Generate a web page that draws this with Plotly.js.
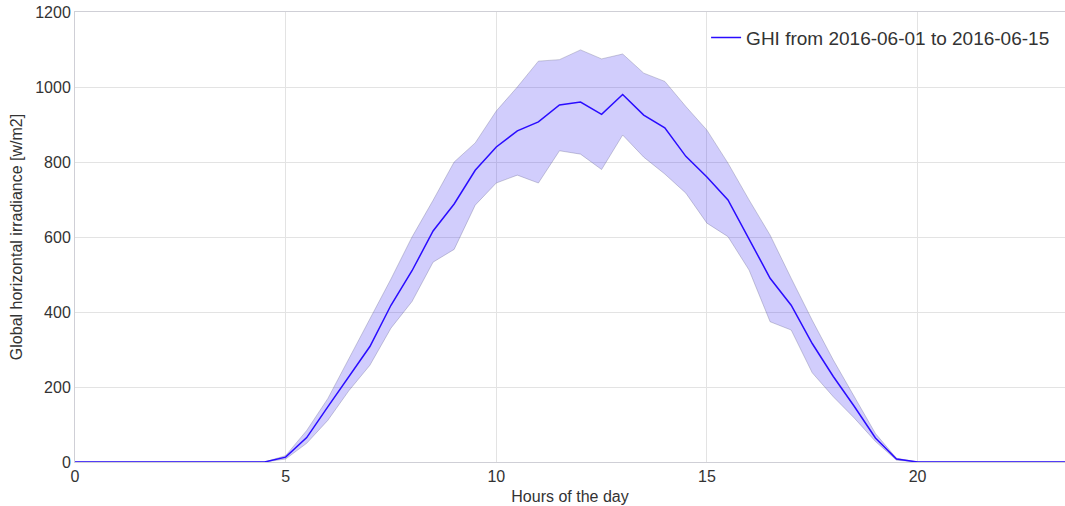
<!DOCTYPE html>
<html>
<head>
<meta charset="utf-8">
<script src="https://cdn.plot.ly/plotly-3.0.1.min.js"></script>
<style>
  html, body { margin: 0; padding: 0; background: #ffffff; }
  #chart { width: 1065px; height: 506px; }
</style>
</head>
<body>
<div id="chart"></div>
<script>
// Hours of the day (half-hour steps)
const hours = [0,0.5,1,1.5,2,2.5,3,3.5,4,4.5,5,5.5,6,6.5,7,7.5,8,8.5,9,9.5,10,10.5,11,11.5,12,12.5,13,13.5,14,14.5,15,15.5,16,16.5,17,17.5,18,18.5,19,19.5,20,20.5,21,21.5,22,22.5,23,23.5];

// Mean GHI [w/m2]
const ghiMean = [0,0,0,0,0,0,0,0,0,0,13,65,147,228,308,418,510,616,688,778,840,883,907,952,960,927,980,925,891,815,760,699,595,490,418,316,228,148,64,8,0,0,0,0,0,0,0,0];

// Lower band edge
const ghiLow = [0,0,0,0,0,0,0,0,0,0,8,50,111,190,258,357,428,533,567,685,744,765,744,830,821,780,872,813,768,717,637,601,512,374,352,238,174,117,55,5,0,0,0,0,0,0,0,0];

// Upper band edge
const ghiHigh = [0,0,0,0,0,0,0,0,0,0,17,84,169,276,381,488,600,698,800,851,936,1000,1069,1073,1099,1075,1088,1037,1015,948,885,797,699,605,490,378,272,174,76,10,0,0,0,0,0,0,0,0];

const seriesName = "GHI from 2016-06-01 to 2016-06-15";
const xTicks = [0,5,10,15,20];
const yTicks = [0,200,400,600,800,1000,1200];

const traces = [
  {
    x: hours, y: ghiLow, type: 'scatter', mode: 'lines',
    line: {color: 'rgba(90,90,130,0.30)', width: 1},
    showlegend: false, hoverinfo: 'skip'
  },
  {
    x: hours, y: ghiHigh, type: 'scatter', mode: 'lines',
    fill: 'tonexty', fillcolor: 'rgba(40,20,240,0.21)',
    line: {color: 'rgba(90,90,130,0.30)', width: 1},
    showlegend: false, hoverinfo: 'skip'
  },
  {
    x: hours, y: ghiMean, type: 'scatter', mode: 'lines',
    name: seriesName,
    line: {color: '#2a0cff', width: 1.5}
  }
];

const layout = {
  width: 1065, height: 506,
  margin: {l: 75, r: 0, t: 12, b: 44},
  paper_bgcolor: '#ffffff', plot_bgcolor: '#ffffff',
  font: {family: 'Liberation Sans, Arial, sans-serif', color: '#333333', size: 16},
  showlegend: true,
  legend: {
    x: 0.99, xanchor: 'right', y: 0.985, yanchor: 'top',
    bgcolor: 'rgba(0,0,0,0)', borderwidth: 0,
    font: {size: 19, color: '#333333'}
  },
  xaxis: {
    range: [0, 23.5], tickvals: xTicks, ticktext: xTicks.map(String),
    showgrid: true, gridcolor: '#e3e3e3', gridwidth: 1,
    zeroline: false, showline: true, linecolor: '#cfcfd6', linewidth: 1, mirror: true,
    ticks: '', ticklen: 0,
    tickfont: {size: 16, color: '#333333'},
    title: {text: 'Hours of the day', font: {size: 16, color: '#333333'}, standoff: 6}
  },
  yaxis: {
    range: [0, 1200], tickvals: yTicks, ticktext: yTicks.map(String),
    showgrid: true, gridcolor: '#e3e3e3', gridwidth: 1,
    zeroline: false, showline: true, linecolor: '#cfcfd6', linewidth: 1, mirror: true,
    ticks: '', ticklen: 0,
    tickfont: {size: 16, color: '#333333'},
    title: {text: 'Global horizontal irradiance [w/m2]', font: {size: 16, color: '#333333'}, standoff: 8}
  }
};

Plotly.newPlot('chart', traces, layout, {displayModeBar: false, staticPlot: true});
</script>
</body>
</html>
